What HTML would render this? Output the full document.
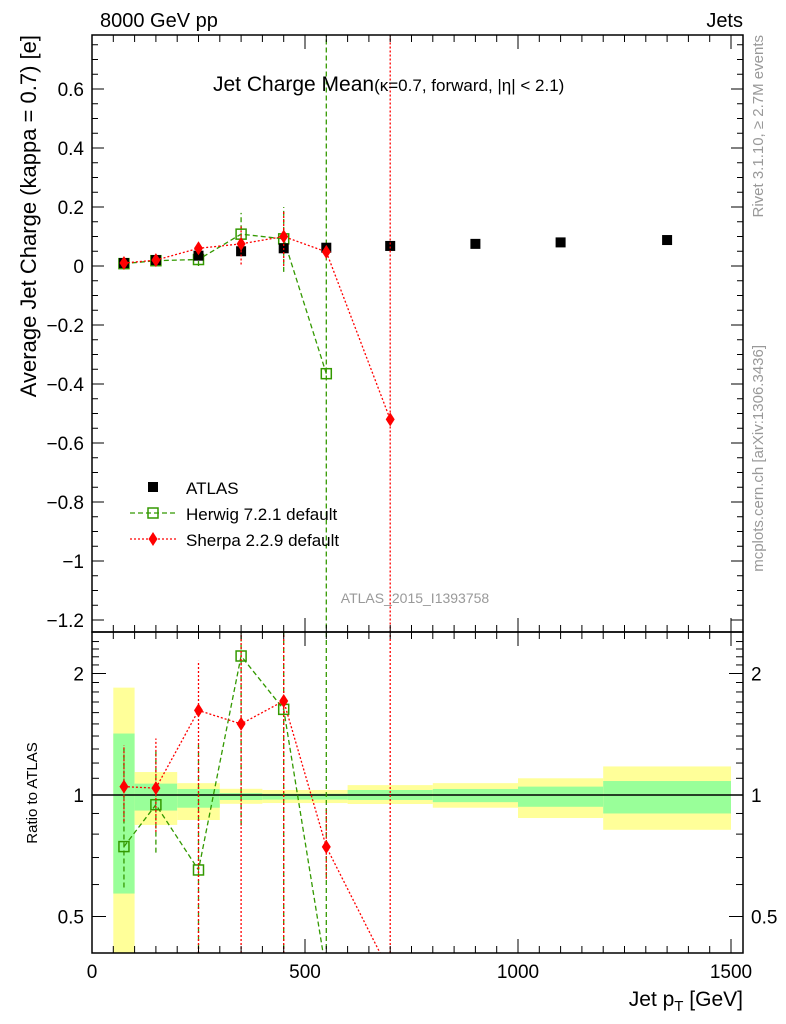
<!DOCTYPE html>
<html><head><meta charset="utf-8"><style>
body{margin:0;background:#fff;}
svg{display:block;font-family:"Liberation Sans",sans-serif;}
</style></head><body>
<svg id="c" width="786" height="1024" viewBox="0 0 786 1024"></svg>
<script>
const atlasX=[75,150,250,350,450,550,700,900,1100,1350];
const atlasY=[0.01,0.02,0.035,0.05,0.06,0.062,0.068,0.075,0.08,0.088];
const herwigX=[75,150,250,350,450,550];
const herwigY=[0.008,0.018,0.022,0.108,0.092,-0.365];
const herwigErrLo=[0.0,0.01,0.0,0.04,-0.02,-1.5];
const herwigErrHi=[0.015,0.028,0.04,0.18,0.2,1.5];
const sherpaX=[75,150,250,350,450,550,700];
const sherpaY=[0.01,0.02,0.06,0.075,0.1,0.048,-0.52];
const sherpaErrLo=[0.002,0.012,0.045,0.005,0.0,0.03,-1.5];
const sherpaErrHi=[0.018,0.028,0.075,0.14,0.19,0.065,1.5];
const herwigRatio=[0.745,0.946,0.652,2.21,1.63,-5.9];
const herwigRLo=[0.59,0.72,0.3,0.84,0.3,0.3];
const herwigRHi=[1.3,1.3,1.33,3,3,3];
const sherpaRatio=[1.049,1.04,1.62,1.50,1.71,0.744,-7.6];
const sherpaRLo=[0.86,0.81,0.3,0.3,0.3,0.62,0.3];
const sherpaRHi=[1.33,1.38,2.15,3,3,0.92,3];
const binEdges=[50,100,200,300,400,500,600,800,1000,1200,1500];
const yelLo=[0.3,0.843,0.867,0.951,0.955,0.955,0.95,0.93,0.877,0.82];
const yelHi=[1.845,1.14,1.07,1.036,1.029,1.029,1.058,1.07,1.10,1.177];
const grnLo=[0.57,0.915,0.93,0.972,0.974,0.974,0.972,0.96,0.935,0.9];
const grnHi=[1.42,1.067,1.035,1.011,1.007,1.007,1.029,1.035,1.049,1.083];
const mainTicks=[0.6,0.4,0.2,0,-0.2,-0.4,-0.6,-0.8,-1,-1.2];
const mainTickLabels=["0.6","0.4","0.2","0","\u22120.2","\u22120.4","\u22120.6","\u22120.8","\u22121","\u22121.2"];
const xTicks=[0,500,1000,1500];
const ratioTicks=[2,1,0.5];

const L=92,R=743,T1=35,B1=632,T2=632,B2=953;
const X=v=>L+v*(731-92)/1500;
const Y=v=>266-v*295;
const RY=v=>{if(v<=0.3)return B2+20;return 795-Math.log2(v)*121.5;};
const svg=document.getElementById('c');const NS='http://www.w3.org/2000/svg';
function mk(tag,a,p){const e=document.createElementNS(NS,tag);for(const k in a)e.setAttribute(k,a[k]);(p||svg).appendChild(e);return e;}
function txt(s,a,p){const e=mk('text',a,p);e.textContent=s;return e;}

const defs=mk('defs',{});
const c1=mk('clipPath',{id:'cp1'},defs);mk('rect',{x:L,y:T1,width:R-L,height:B1-T1},c1);
const c2=mk('clipPath',{id:'cp2'},defs);mk('rect',{x:L,y:T2,width:R-L,height:B2-T2},c2);

const g2=mk('g',{'clip-path':'url(#cp2)'});

for(let i=0;i<yelLo.length;i++){
 const r=mk('rect',{x:X(binEdges[i]),width:X(binEdges[i+1])-X(binEdges[i]),y:RY(yelHi[i]),height:RY(yelLo[i])-RY(yelHi[i]),fill:'#ffff99'},g2);
 
 const q=mk('rect',{x:X(binEdges[i]),width:X(binEdges[i+1])-X(binEdges[i]),y:RY(grnHi[i]),height:RY(grnLo[i])-RY(grnHi[i]),fill:'#99ff99'},g2);
 
}
mk('line',{x1:L,x2:R,y1:RY(1),y2:RY(1),stroke:'#000','stroke-width':1.5},g2);

function series(g,xs,ys,lo,hi,yf,color,dash,marker,name){
 let d='';xs.forEach((x,i)=>{d+=(i?'L':'M')+X(x)+','+yf(ys[i]);});
 const p=mk('path',{d,fill:'none',stroke:color,'stroke-width':1.3,'stroke-dasharray':dash},g);
 
 xs.forEach((x,i)=>{
  const cx=X(x);
  const e=mk('line',{x1:cx,x2:cx,y1:yf(lo[i]),y2:yf(hi[i]),stroke:color,'stroke-width':1.3,'stroke-dasharray':dash},g);
  
  const cy=yf(ys[i]);
  let m;
  if(marker==='sq')m=mk('rect',{x:cx-5,y:cy-5,width:10,height:10,fill:'none',stroke:color,'stroke-width':1.5},g);
  else m=mk('path',{d:`M${cx},${cy-7}L${cx+4.5},${cy}L${cx},${cy+7}L${cx-4.5},${cy}Z`,fill:color},g);
  
 });
}
series(g2,herwigX,herwigRatio,herwigRLo,herwigRHi,RY,'#339900','5,3','sq','herwig-ratio');
series(g2,sherpaX,sherpaRatio,sherpaRLo,sherpaRHi,RY,'#ff0000','2,2','di','sherpa-ratio');

const g1=mk('g',{'clip-path':'url(#cp1)'});

series(g1,herwigX,herwigY,herwigErrLo,herwigErrHi,Y,'#339900','5,3','sq','herwig');
atlasX.forEach((x,i)=>{const m=mk('rect',{x:X(x)-5,y:Y(atlasY[i])-5,width:10,height:10,fill:'#000'},g1);
 });
series(g1,sherpaX,sherpaY,sherpaErrLo,sherpaErrHi,Y,'#ff0000','2,2','di','sherpa');

mk('rect',{x:L,y:T1,width:R-L,height:B1-T1,fill:'none',stroke:'#000','stroke-width':1.5});
mk('rect',{x:L,y:T2,width:R-L,height:B2-T2,fill:'none',stroke:'#000','stroke-width':1.5});

for(let v=-1.25;v<=0.78;v+=0.05){const y=Y(v);if(y<T1||y>B1)continue;const maj=Math.abs(Math.round(v*20)%4)===0;const len=maj?12:6;
 mk('line',{x1:L,x2:L+len,y1:y,y2:y,stroke:'#000'});mk('line',{x1:R,x2:R-len,y1:y,y2:y,stroke:'#000'});}
mainTicks.forEach((v,i)=>{const t=txt(mainTickLabels[i],{x:L-8,y:Y(v)+7,'font-size':19,'text-anchor':'end'});});
for(let v=0;v<=1520;v+=50){const x=X(v);if(x>R)continue;const maj=v%500===0;const len=maj?14:7;
 [B1,B2].forEach(b=>mk('line',{x1:x,x2:x,y1:b,y2:b-len,stroke:'#000'}));
 [T1,T2].forEach(t=>mk('line',{x1:x,x2:x,y1:t,y2:t+len,stroke:'#000'}));}
xTicks.forEach(v=>{const t=txt(String(v),{x:X(v),y:978,'font-size':19,'text-anchor':'middle'});});
for(let v=0.4;v<=2.5;v+=0.1){const y=RY(v);if(y<T2||y>B2)continue;const maj=ratioTicks.some(r=>Math.abs(r-v)<1e-6);const len=maj?14:7;
 mk('line',{x1:L,x2:L+len,y1:y,y2:y,stroke:'#000'});mk('line',{x1:R,x2:R-len,y1:y,y2:y,stroke:'#000'});}
ratioTicks.forEach(v=>{[[L-8,'end'],[R+8,'start']].forEach(([x,a])=>{const t=txt(String(v),{x,y:RY(v)+7,'font-size':19,'text-anchor':a});});});

let t;
t=txt('8000 GeV pp',{x:100,y:27,'font-size':20});
t=txt('Jets',{x:743,y:27,'font-size':20,'text-anchor':'end'});
t=mk('text',{x:213,y:91,'font-size':21});t.innerHTML='Jet Charge Mean<tspan font-size="17">(κ=0.7, forward, |η| &lt; 2.1)</tspan>';
t=txt('Average Jet Charge (kappa = 0.7) [e]',{x:0,y:0,'font-size':22,'text-anchor':'end',transform:'translate(36,35) rotate(-90)'});
t=txt('Ratio to ATLAS',{x:0,y:0,'font-size':15,'text-anchor':'middle',transform:'translate(37,793) rotate(-90)'});
t=mk('text',{x:743,y:1006,'font-size':21,'text-anchor':'end'});t.innerHTML='Jet p<tspan font-size="15" dy="5">T</tspan><tspan dy="-5"> [GeV]</tspan>';
t=txt('ATLAS_2015_I1393758',{x:415,y:603,'font-size':14,fill:'#999','text-anchor':'middle'});
t=txt('Rivet 3.1.10, ≥ 2.7M events',{x:0,y:0,'font-size':15,fill:'#999','text-anchor':'end',transform:'translate(763,35) rotate(-90)'});
t=txt('mcplots.cern.ch [arXiv:1306.3436]',{x:0,y:0,'font-size':15,fill:'#999','text-anchor':'end',transform:'translate(763,345) rotate(-90)'});

const lg=mk('g',{});
mk('rect',{x:148,y:482,width:10,height:10,fill:'#000'},lg);
t=txt('ATLAS',{x:186,y:494,'font-size':17},lg);
mk('line',{x1:130,x2:176,y1:513,y2:513,stroke:'#339900','stroke-width':1.3,'stroke-dasharray':'5,3'},lg);
mk('rect',{x:148,y:508,width:10,height:10,fill:'none',stroke:'#339900','stroke-width':1.5},lg);
t=txt('Herwig 7.2.1 default',{x:186,y:520,'font-size':17},lg);
mk('line',{x1:130,x2:176,y1:539,y2:539,stroke:'#ff0000','stroke-width':1.3,'stroke-dasharray':'2,2'},lg);
mk('path',{d:'M153,532L157.5,539L153,546L148.5,539Z',fill:'#ff0000'},lg);
t=txt('Sherpa 2.2.9 default',{x:186,y:546,'font-size':17},lg);
</script>
</body></html>
